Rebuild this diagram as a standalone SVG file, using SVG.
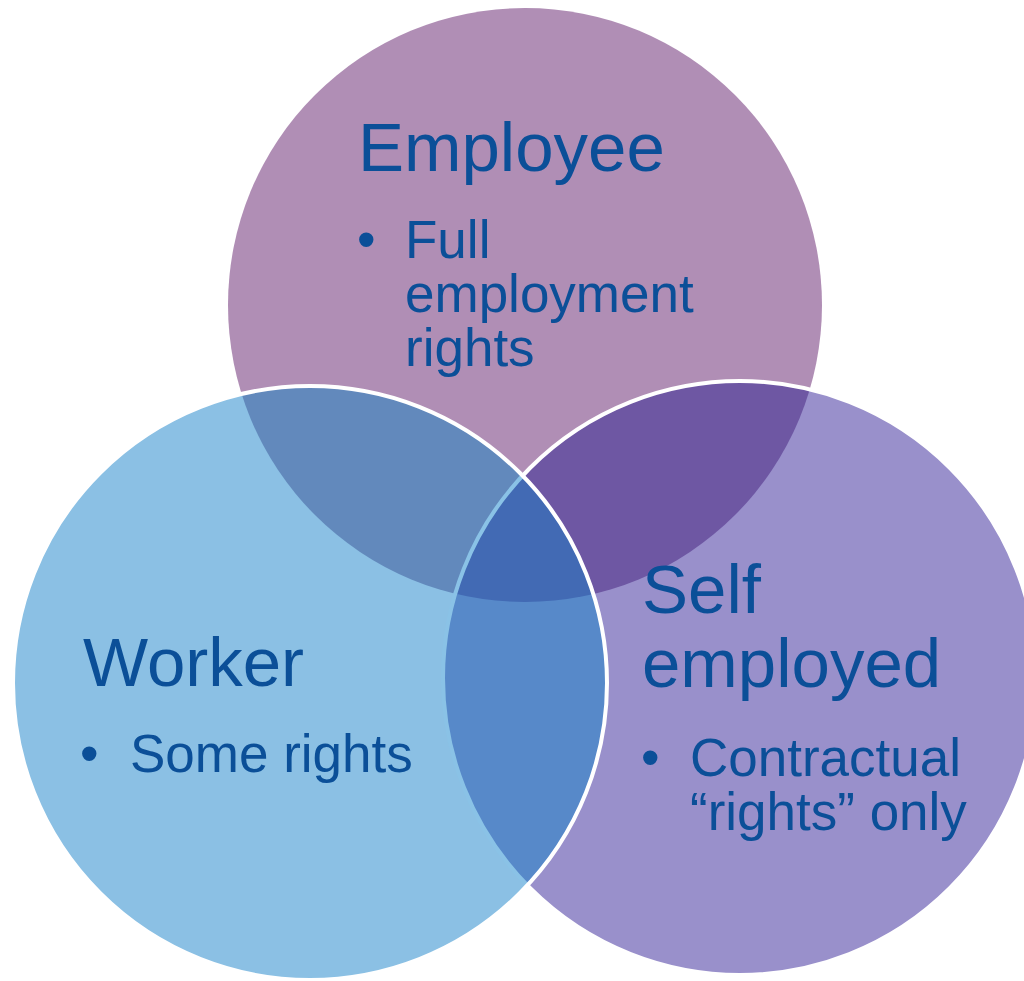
<svg xmlns="http://www.w3.org/2000/svg" width="1024" height="981" viewBox="0 0 1024 981">
<style>
.t{font-family:"Liberation Sans",Arial,sans-serif;fill:#0B4F98}
.h{font-size:69px}
.b{font-size:53px}
</style>
<defs>
<clipPath id="cT"><circle cx="525" cy="305" r="297"/></clipPath>
<clipPath id="cL"><circle cx="310" cy="683" r="297"/></clipPath>
<clipPath id="cR"><circle cx="740" cy="678" r="297"/></clipPath>
</defs>
<rect width="1024" height="981" fill="#fff"/>
<g id="employee-circle">
<circle cx="525" cy="305" r="297" fill="#B08EB5"/>
</g>
<g id="self-employed-circle">
<circle cx="740" cy="678" r="297" fill="#9990CB"/>
<circle cx="740" cy="678" r="297" fill="#6E57A3" clip-path="url(#cT)"/>
<circle cx="740" cy="678" r="297" fill="none" stroke="#fff" stroke-width="4"/>
</g>
<g id="worker-circle">
<circle cx="310" cy="683" r="297" fill="#8BC0E4"/>
<g clip-path="url(#cL)">
<circle cx="525" cy="305" r="297" fill="#6289BC"/>
<circle cx="740" cy="678" r="297" fill="#5789C9"/>
<g clip-path="url(#cT)"><circle cx="740" cy="678" r="297" fill="#426AB4"/></g>
<circle cx="740" cy="678" r="297" fill="none" stroke="#8AC2E6" stroke-width="4"/>
</g>
<circle cx="310" cy="683" r="297" fill="none" stroke="#fff" stroke-width="4"/>
</g>
<g id="employee-text">
<text class="t h" x="358" y="171">Employee</text>
<text class="t b" x="357" y="258">•</text>
<text class="t b" x="405" y="258">Full</text>
<text class="t b" x="405" y="312">employment</text>
<text class="t b" x="405" y="366">rights</text>
</g>
<g id="worker-text">
<text class="t h" x="83" y="686">Worker</text>
<text class="t b" x="80" y="772">•</text>
<text class="t b" x="130" y="772">Some rights</text>
</g>
<g id="self-employed-text">
<text class="t h" x="642" y="613">Self</text>
<text class="t h" x="642" y="687">employed</text>
<text class="t b" x="641" y="776">•</text>
<text class="t b" x="690" y="776">Contractual</text>
<text class="t b" x="690" y="830">“rights” only</text>
</g>
</svg>
